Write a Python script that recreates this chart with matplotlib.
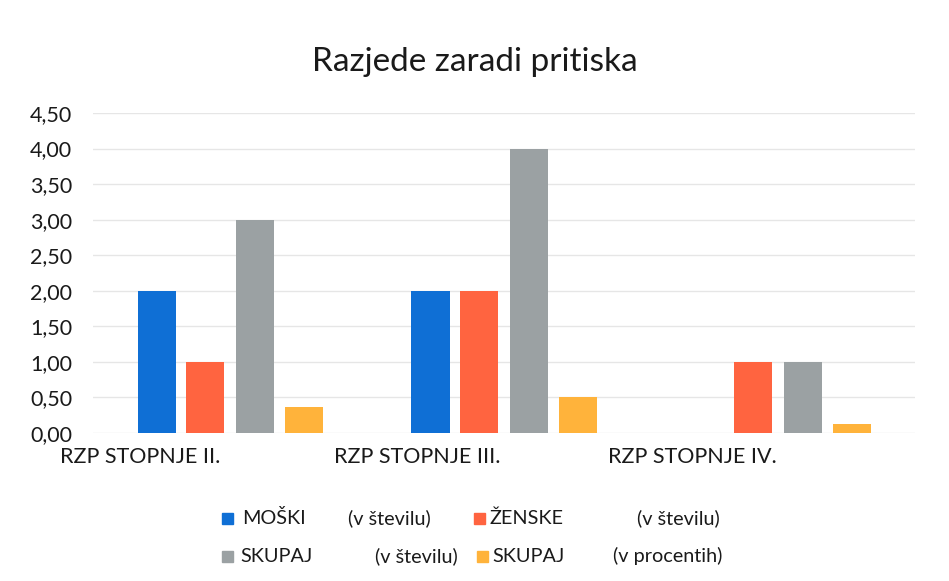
import numpy as np
import matplotlib.pyplot as plt
from matplotlib.patches import Rectangle

plt.rcParams['font.family'] = ['Lato', 'DejaVu Sans']

categories = ["RZP STOPNJE II.", "RZP STOPNJE III.", "RZP STOPNJE IV."]
series_names = ["MOŠKI", "ŽENSKE", "SKUPAJ", "SKUPAJ"]
series_units = ["(v številu)", "(v številu)", "(v številu)", "(v procentih)"]
moski = [2.0, 2.0, 0.0]
zenske = [1.0, 2.0, 1.0]
skupaj = [3.0, 4.0, 1.0]
skupaj_pct = [0.37, 0.5, 0.12]
yticks = np.arange(0, 4.51, 0.5)

colors = ["#0f6fd5", "#ff6440", "#9ba1a3", "#ffb33b"]
values = [moski, zenske, skupaj, skupaj_pct]
txt = "#1a1a1a"

fig = plt.figure(figsize=(9.49, 5.81), dpi=100)
ax = fig.add_axes([0.098, 0.2547, 0.866, 0.5508])

x = np.arange(len(categories))
offsets = [-0.268, -0.091, 0.093, 0.27]
for vals, off, c in zip(values, offsets, colors):
    ax.bar(x + off, vals, width=0.139, color=c, zorder=3)

ax.set_xlim(-0.5, len(categories) - 0.5)
ax.set_ylim(0, 4.5)
ax.set_yticks(yticks)
ax.set_yticklabels([f"{v:.2f}".replace(".", ",") for v in yticks], fontsize=15.5, color=txt)
ax.tick_params(axis="y", length=0, pad=15)
ax.set_xticks([])
ax.grid(axis="y", color="#e6e6e6", linewidth=1, zorder=0)
for s in ax.spines.values():
    s.set_visible(False)

# category labels sit left of each category slot
for i, cat in enumerate(categories):
    ax.text(i - 0.5 - 0.12, -0.2, cat, ha="left", va="top", fontsize=15.5,
            color=txt, transform=ax.transData)

fig.text(0.5, 0.893, "Razjede zaradi pritiska", ha="center", va="center",
         fontsize=24, color=txt)

# legend laid out as in the original (two rows)
leg_pos = [(222, 242, 348, 517), (474, 490, 637, 517),
           (222, 240, 375, 555), (477, 492, 613, 555)]
W, H = 949, 581
for (sx, nx, ux, ly), name, unit, c in zip(leg_pos, series_names, series_units, colors):
    fig.patches.append(Rectangle((sx / W, 1 - (ly + 7) / H), 11 / W, 11 / H,
                                 transform=fig.transFigure, color=c))
    fig.text(nx / W, 1 - (ly + 7) / H, name, ha="left", va="baseline", fontsize=14.3, color=txt)
    fig.text(ux / W, 1 - (ly + 7) / H, unit, ha="left", va="baseline", fontsize=14.3, color=txt)

plt.savefig("out.png", dpi=100)
